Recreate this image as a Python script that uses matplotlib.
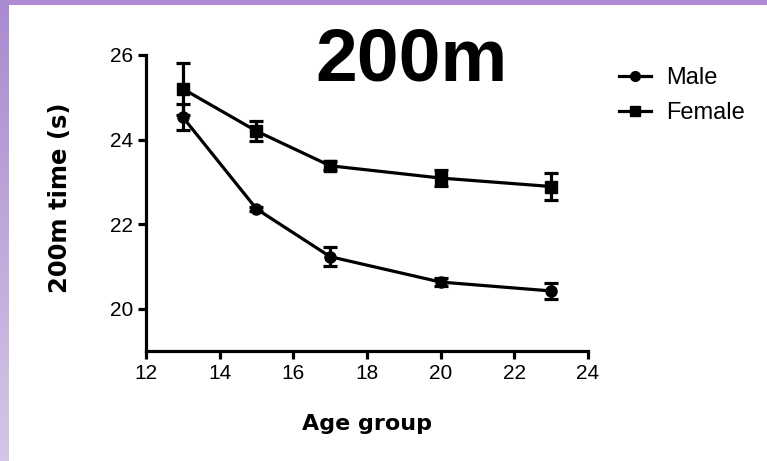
import numpy as np
import matplotlib
matplotlib.use("Agg")
import matplotlib.pyplot as plt
from matplotlib.lines import Line2D

# # DATA

age_groups = [13, 15, 17, 20, 23]
male_time = [24.53, 22.36, 21.23, 20.63, 20.42]
male_sem = [0.31, 0.05, 0.22, 0.10, 0.19]
female_time = [25.20, 24.20, 23.38, 23.09, 22.89]
female_sem = [0.62, 0.24, 0.11, 0.19, 0.31]

x_ticks = [12, 14, 16, 18, 20, 22, 24]
y_ticks = [20, 22, 24, 26]

# # FIGURE

fig = plt.figure(figsize=(7.67, 4.61), dpi=100)

# purple frame along the top and left edges
top_band = fig.add_axes([0, 1 - 5 / 461, 1, 5 / 461])
top_band.axis("off")
top_band.add_patch(plt.Rectangle((0, 0), 1, 1, color="#ae8bd2", transform=top_band.transAxes))

left_band = fig.add_axes([0, 0, 9 / 767, 1])
grad = np.linspace(0, 1, 256).reshape(-1, 1)
cmap = matplotlib.colors.LinearSegmentedColormap.from_list("frame", ["#d4c6e7", "#a98ad0"])
left_band.imshow(grad, aspect="auto", cmap=cmap, origin="lower", extent=[0, 1, 0, 1])
left_band.axis("off")

ax = fig.add_axes([146 / 767, 1 - 351 / 461, 442 / 767, 296 / 461])

lw = 2.3
ax.errorbar(age_groups, male_time, yerr=male_sem, color="black", lw=lw,
            marker="o", markersize=8, capsize=5, capthick=lw, elinewidth=lw)
ax.errorbar(age_groups, female_time, yerr=female_sem, color="black", lw=lw,
            marker="s", markersize=8, capsize=5, capthick=lw, elinewidth=lw)

ax.set_xlim(12, 24)
ax.set_ylim(19, 26)
ax.set_xticks(x_ticks)
ax.set_yticks(y_ticks)
for side in ["top", "right"]:
    ax.spines[side].set_visible(False)
for side in ["left", "bottom"]:
    ax.spines[side].set_linewidth(2.3)
ax.tick_params(width=2.3, length=6, direction="out", labelsize=15)
for lab in ax.get_xticklabels() + ax.get_yticklabels():
    lab.set_family("Liberation Sans")

ax.set_xlabel("Age group", fontsize=16, fontweight="bold", labelpad=22)
ax.set_ylabel("200m time (s)", fontsize=17.5, fontweight="bold")
ax.yaxis.set_label_coords(-74 / 442, (351 - 198) / 296)

fig.text(411 / 767, 1 - 61 / 461, "200m", fontsize=54, fontweight="bold",
         family="Liberation Sans", ha="center", va="center")

# legend shows line + marker only
handles = [Line2D([], [], color="black", lw=lw, marker="o", markersize=7),
           Line2D([], [], color="black", lw=lw, marker="s", markersize=7)]
fig.legend(handles, ["Male", "Female"], loc="upper left",
           bbox_to_anchor=(598 / 767, 1 - 46 / 461), frameon=False,
           prop={"family": "Liberation Sans", "size": 17},
           handlelength=1.35, handletextpad=0.65, labelspacing=0.55)

fig.savefig("out.png", dpi=100)
